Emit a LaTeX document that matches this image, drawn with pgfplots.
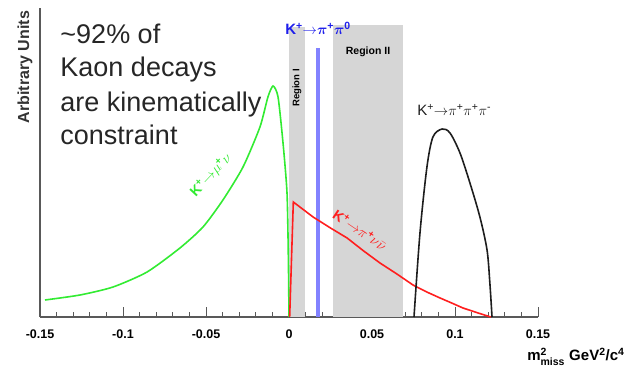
\documentclass[border=0pt]{standalone}
\usepackage{pgfplots}
\pgfplotsset{compat=1.18}
\usepackage{amsmath}
\usepackage{fontspec}
\setmainfont{Liberation Sans}

\definecolor{mugreen}{RGB}{50,235,50}
\definecolor{nured}{RGB}{255,30,30}
\definecolor{pizline}{RGB}{130,130,255}
\definecolor{pizlabel}{RGB}{30,30,235}
\definecolor{threepi}{RGB}{30,30,30}
\definecolor{regfill}{RGB}{214,214,214}

\newcommand{\arr}{${\rightarrow}$}

\begin{document}
\begin{tikzpicture}
\useasboundingbox (0pt,0pt) rectangle (631pt,371pt);
\begin{axis}[
  at={(40pt,54pt)}, anchor=south west,
  scale only axis, width=498pt, height=309pt,
  xmin=-0.15, xmax=0.15, ymin=0, ymax=309,
  axis x line*=bottom, axis y line*=left,
  axis line style={black!65, line width=1.2pt},
  ytick=\empty,
  xtick={-0.15,-0.1,-0.05,0,0.05,0.1,0.15},
  xticklabels={-0.15,-0.1,-0.05,0,0.05,0.1,0.15},
  minor x tick num=4,
  tick align=inside,
  major tick length=10pt, minor tick length=5pt,
  every tick/.style={black!65, line width=1pt},
  xticklabel style={font=\fontsize{12.5}{12.5}\selectfont\bfseries, yshift=-9pt},
  clip=false,
]
% acceptance regions
\addplot[draw=none, fill=regfill] coordinates {(0.0,0) (0.0,290) (0.0097,290) (0.0097,0)} -- cycle;
\addplot[draw=none, fill=regfill] coordinates {(0.0267,0) (0.0267,292) (0.0689,292) (0.0689,0)} -- cycle;

% K -> pi pi0 peak
\addplot[pizline, line width=3.2pt] coordinates {(0.0175,0) (0.0175,269)};

% K -> mu nu
\addplot[mugreen, line width=1.6pt, smooth, tension=0.4] coordinates {
 (-0.147,17) (-0.1259,22) (-0.106,30) (-0.0855,45) (-0.0657,69) (-0.0518,90)
 (-0.0398,117) (-0.0277,150) (-0.0175,190) (-0.0127,220) (-0.0096,231)
 (-0.0066,220) (-0.0036,174) (-0.0012,124) (-0.0004,60) (0,0)};

% K -> pi nu nubar
\addplot[nured, line width=1.6pt] coordinates {
 (0.0004,0) (0.0026,115) (0.0145,100) (0.025,89) (0.035,79) (0.045,66) (0.0548,54)
 (0.065,43) (0.0747,32) (0.083,25) (0.091,19) (0.098,14) (0.1048,9) (0.113,4.5) (0.1215,0)};

% K -> pi pi pi
\addplot[threepi, line width=1.6pt, smooth, tension=0.5] coordinates {
 (0.0753,0) (0.0789,84) (0.0831,150) (0.0867,180) (0.0922,188) (0.097,184)
 (0.103,164) (0.109,134) (0.115,100) (0.1193,67) (0.121,34) (0.1223,0)};

% annotations
\node[anchor=base west, font=\fontsize{27}{27}\selectfont, text=black!85] at (axis cs:-0.1398,273) {\textasciitilde 92\% of};
\node[anchor=base west, font=\fontsize{27}{27}\selectfont, text=black!85] at (axis cs:-0.1398,240) {Kaon decays};
\node[anchor=base west, font=\fontsize{27}{27}\selectfont, text=black!85] at (axis cs:-0.1398,205) {are kinematically};
\node[anchor=base west, font=\fontsize{27}{27}\selectfont, text=black!85] at (axis cs:-0.1398,172) {constraint};

\node[rotate=90, font=\fontsize{16}{16}\selectfont\bfseries, text=black!80] at (axis cs:-0.159,250) {Arbitrary Units};

\node[inner sep=1pt, font=\fontsize{15}{15}\selectfont\bfseries, text=pizlabel] at (axis cs:0.0175,289) {K\textsuperscript{+}\arr$\boldsymbol{\pi}$\textsuperscript{+}$\boldsymbol{\pi}$\textsuperscript{0}};
\node[inner sep=1pt, font=\fontsize{15}{15}\selectfont, text=threepi] at (axis cs:0.0995,207) {K\textsuperscript{+}\arr$\pi$\textsuperscript{+}$\pi$\textsuperscript{+}$\pi$\textsuperscript{-}};

\node[font=\fontsize{10.5}{10.5}\selectfont\bfseries] at (axis cs:0.0476,265) {Region II};
\node[rotate=90, font=\fontsize{9.5}{9.5}\selectfont\bfseries] at (axis cs:0.0048,229) {Region I};

\node[inner sep=0pt, rotate=47, font=\fontsize{14}{14}\selectfont\bfseries, text=mugreen] at (axis cs:-0.047,142) {K\textsuperscript{+}\arr$\mu$\textsuperscript{+}$\nu$};
\node[inner sep=0pt, rotate=-34, font=\fontsize{14}{14}\selectfont\bfseries, text=nured] at (axis cs:0.0428,87) {K\textsuperscript{+}\arr$\pi$\textsuperscript{+}$\nu\bar{\nu}$};

\node[anchor=east, font=\fontsize{15}{15}\selectfont\bfseries] at (axis cs:0.2042,-40) {m$^{\text{2}}_{\text{miss}}$ GeV\textsuperscript{2}/c\textsuperscript{4}};
\end{axis}
\end{tikzpicture}
\end{document}
